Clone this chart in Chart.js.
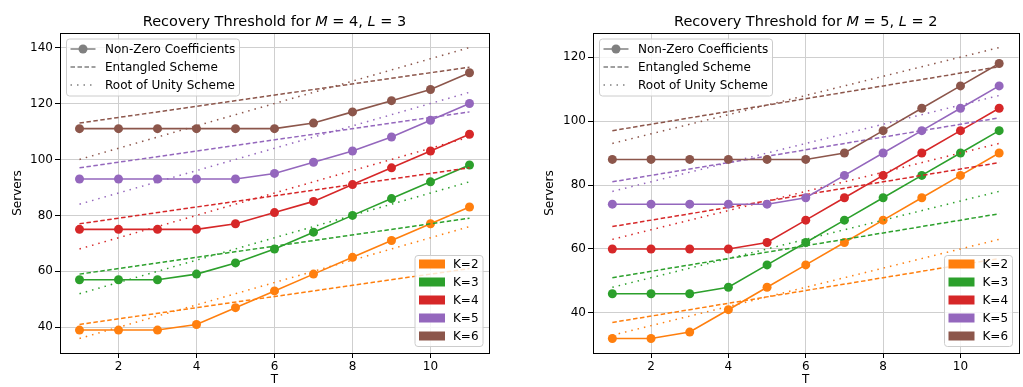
<!DOCTYPE html>
<html>
<head>
<meta charset="utf-8">
<script src="https://cdn.jsdelivr.net/npm/chart.js@4.4.1/dist/chart.umd.min.js"></script>
<style>
  html, body { margin: 0; padding: 0; background: #fff; }
  #wrap { position: relative; width: 1023px; height: 387px; }
  #left { position: absolute; left: 0; top: 0; }
  #right { position: absolute; left: 512px; top: 0; }
</style>
</head>
<body>
<div id="wrap">
  <canvas id="left" width="512" height="387"></canvas>
  <canvas id="right" width="511" height="387"></canvas>
</div>
<script>
// T values on the x axis
const tValues = [1, 2, 3, 4, 5, 6, 7, 8, 9, 10, 11];
const kLabels = ['K=2', 'K=3', 'K=4', 'K=5', 'K=6'];
const kColors = ['#ff7f0e', '#2ca02c', '#d62728', '#9467bd', '#8c564b'];
const xTicks = [2, 4, 6, 8, 10];

// M=4, L=3 : non-zero coefficients
const m4k2 = [39, 39, 39, 41, 47, 53, 59, 65, 71, 77, 83];
const m4k3 = [57, 57, 57, 59, 63, 68, 74, 80, 86, 92, 98];
const m4k4 = [75, 75, 75, 75, 77, 81, 85, 91, 97, 103, 109];
const m4k5 = [93, 93, 93, 93, 93, 95, 99, 103, 108, 114, 120];
const m4k6 = [111, 111, 111, 111, 111, 111, 113, 117, 121, 125, 131];
// entangled / root of unity, values at T=1 and T=11 (straight lines)
const m4EntStart = [41, 59, 77, 97, 113];
const m4EntEnd = [61, 79, 97, 117, 133];
const m4RootStart = [36, 52, 68, 84, 100];
const m4RootEnd = [76, 92, 108, 124, 140];
const m4YTicks = [40, 60, 80, 100, 120, 140];

// M=5, L=2
const m5k2 = [32, 32, 34, 41, 48, 55, 62, 69, 76, 83, 90];
const m5k3 = [46, 46, 46, 48, 55, 62, 69, 76, 83, 90, 97];
const m5k4 = [60, 60, 60, 60, 62, 69, 76, 83, 90, 97, 104];
const m5k5 = [74, 74, 74, 74, 74, 76, 83, 90, 97, 104, 111];
const m5k6 = [88, 88, 88, 88, 88, 88, 90, 97, 104, 111, 118];
const m5EntStart = [37, 51, 67, 81, 97];
const m5EntEnd = [57, 71, 87, 101, 117];
const m5RootStart = [33, 48, 63, 78, 93];
const m5RootEnd = [63, 78, 93, 108, 123];
const m5YTicks = [40, 60, 80, 100, 120];

const FONT = 'DejaVu Sans';

function buildDatasets(series, entStart, entEnd, rootStart, rootEnd) {
  const ds = [];
  series.forEach((vals, i) => {
    const c = kColors[i];
    ds.push({
      data: tValues.map((t, j) => ({ x: t, y: vals[j] })),
      borderColor: c, backgroundColor: c,
      borderWidth: 1.6, pointRadius: 4.5, pointBorderWidth: 0,
      order: 100 - i * 3
    });
    ds.push({
      data: [{ x: tValues[0], y: entStart[i] }, { x: tValues[tValues.length - 1], y: entEnd[i] }],
      borderColor: c, borderWidth: 1.5, borderDash: [4.5, 2.5],
      pointRadius: 0, order: 99 - i * 3
    });
    ds.push({
      data: [{ x: tValues[0], y: rootStart[i] }, { x: tValues[tValues.length - 1], y: rootEnd[i] }],
      borderColor: c, borderWidth: 1.5, borderDash: [1.5, 5],
      pointRadius: 0, order: 98 - i * 3
    });
  });
  return ds;
}

function roundRect(ctx, x, y, w, h, r) {
  ctx.beginPath();
  ctx.moveTo(x + r, y);
  ctx.lineTo(x + w - r, y);
  ctx.quadraticCurveTo(x + w, y, x + w, y + r);
  ctx.lineTo(x + w, y + h - r);
  ctx.quadraticCurveTo(x + w, y + h, x + w - r, y + h);
  ctx.lineTo(x + r, y + h);
  ctx.quadraticCurveTo(x, y + h, x, y + h - r);
  ctx.lineTo(x, y + r);
  ctx.quadraticCurveTo(x, y, x + r, y);
  ctx.closePath();
}

// frame, title with italic math letters, and the two legends
const decorPlugin = {
  id: 'decor',
  afterDraw(chart, args, opts) {
    const ctx = chart.ctx;
    const a = chart.chartArea;
    ctx.save();
    // frame
    ctx.strokeStyle = '#000';
    ctx.lineWidth = 1;
    ctx.strokeRect(Math.round(a.left) + 0.5, Math.round(a.top) + 0.5,
      Math.round(a.right - a.left), Math.round(a.bottom - a.top));

    // title
    const parts = opts.title;
    let total = 0;
    parts.forEach(p => {
      ctx.font = (p[1] ? 'italic ' : '') + '14.5px ' + FONT;
      total += ctx.measureText(p[0]).width;
    });
    let x = (a.left + a.right) / 2 - total / 2;
    ctx.fillStyle = '#000';
    ctx.textBaseline = 'alphabetic';
    ctx.textAlign = 'left';
    parts.forEach(p => {
      ctx.font = (p[1] ? 'italic ' : '') + '14.5px ' + FONT;
      ctx.fillText(p[0], x, 26);
      x += ctx.measureText(p[0]).width;
    });

    // legend 1: line styles
    let bx = a.left + 6.5, by = a.top + 6;
    roundRect(ctx, bx, by, 173, 57, 3);
    ctx.fillStyle = 'rgba(255,255,255,0.8)';
    ctx.fill();
    ctx.strokeStyle = '#cccccc';
    ctx.stroke();
    const styles = [[], [4.5, 2.5], [1.5, 5]];
    const names = ['Non-Zero Coefficients', 'Entangled Scheme', 'Root of Unity Scheme'];
    ctx.font = '12px ' + FONT;
    ctx.textBaseline = 'middle';
    names.forEach((n, i) => {
      const yy = by + 10 + i * 18;
      ctx.strokeStyle = '#808080';
      ctx.lineWidth = 1.5;
      ctx.setLineDash(styles[i]);
      ctx.beginPath();
      ctx.moveTo(bx + 4, yy);
      ctx.lineTo(bx + 29, yy);
      ctx.stroke();
      ctx.setLineDash([]);
      if (i === 0) {
        ctx.fillStyle = '#808080';
        ctx.beginPath();
        ctx.arc(bx + 16.5, yy, 4.5, 0, Math.PI * 2);
        ctx.fill();
      }
      ctx.fillStyle = '#000';
      ctx.fillText(n, bx + 38.5, yy + 1);
    });

    // legend 2: K colours
    const w2 = 68, h2 = 91;
    bx = a.right - 6 - w2;
    by = a.bottom - 6.5 - h2;
    roundRect(ctx, bx, by, w2, h2, 3);
    ctx.fillStyle = 'rgba(255,255,255,0.8)';
    ctx.fill();
    ctx.strokeStyle = '#cccccc';
    ctx.lineWidth = 1;
    ctx.stroke();
    kLabels.forEach((k, i) => {
      const yy = by + 8.5 + i * 18;
      ctx.fillStyle = kColors[i];
      ctx.fillRect(bx + 4, yy - 4.5, 26, 9);
      ctx.fillStyle = '#000';
      ctx.fillText(k, bx + 38, yy + 1);
    });
    ctx.restore();
  }
};

function makeChart(id, datasets, yMin, yMax, yTicks, yWidth, padRight, titleParts, yTitlePad) {
  return new Chart(document.getElementById(id), {
    type: 'line',
    data: { datasets },
    options: {
      responsive: false,
      animation: false,
      layout: { padding: { left: 0, right: padRight, top: 33, bottom: 0 } },
      plugins: {
        legend: { display: false },
        tooltip: { enabled: false },
        decor: { title: titleParts }
      },
      scales: {
        x: {
          type: 'linear', min: 0.5, max: 11.5,
          afterBuildTicks: s => { s.ticks = xTicks.map(v => ({ value: v })); },
          afterFit: s => { s.height = 34; },
          grid: { color: '#cfcfcf', lineWidth: 1, tickColor: '#000', tickLength: 5 },
          border: { display: false },
          ticks: { color: '#000', font: { family: FONT, size: 12 }, padding: 2, maxRotation: 0, autoSkip: false },
          title: { display: true, text: 'T', color: '#000', font: { family: FONT, size: 12 }, padding: 0 }
        },
        y: {
          type: 'linear', min: yMin, max: yMax,
          afterBuildTicks: s => { s.ticks = yTicks.map(v => ({ value: v })); },
          afterFit: s => { s.width = yWidth; },
          grid: { color: '#cfcfcf', lineWidth: 1, tickColor: '#000', tickLength: 5 },
          border: { display: false },
          ticks: { color: '#000', font: { family: FONT, size: 12 }, padding: 2, autoSkip: false },
          title: { display: true, text: 'Servers', color: '#000', font: { family: FONT, size: 12 }, padding: { top: yTitlePad, bottom: 0 } }
        }
      }
    },
    plugins: [decorPlugin]
  });
}

makeChart('left',
  buildDatasets([m4k2, m4k3, m4k4, m4k5, m4k6], m4EntStart, m4EntEnd, m4RootStart, m4RootEnd),
  30.8, 145.2, m4YTicks, 60, 23,
  [['Recovery Threshold for ', false], ['M', true], [' = 4, ', false], ['L', true], [' = 3', false]], 11);

makeChart('right',
  buildDatasets([m5k2, m5k3, m5k4, m5k5, m5k6], m5EntStart, m5EntEnd, m5RootStart, m5RootEnd),
  27.45, 127.55, m5YTicks, 81, 2,
  [['Recovery Threshold for ', false], ['M', true], [' = 5, ', false], ['L', true], [' = 2', false]], 31);
</script>
</body>
</html>
